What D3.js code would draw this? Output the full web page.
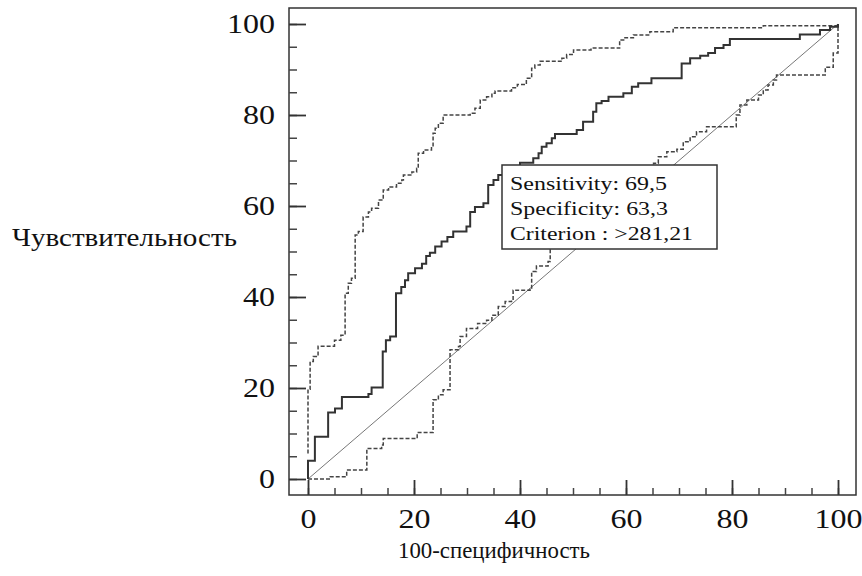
<!DOCTYPE html>
<html>
<head>
<meta charset="utf-8">
<script src="https://cdn.jsdelivr.net/npm/d3@7"></script>
<style>
  body { margin: 0; background: #fff; }
  svg { display: block; }
</style>
</head>
<body>
<div id="chart"></div>
<script>
// ROC curve: [100-specificity, sensitivity] corners (rise at x up to y)
const rocCurve = [
  [0, 0], [0, 4.0], [1.3, 9.3], [3.8, 14.6], [5.1, 15.5], [6.4, 18.0], [11.4, 18.7],
  [12.0, 20.1], [14.1, 28.0], [14.7, 30.5], [15.5, 31.3], [16.6, 40.8], [17.6, 42.2],
  [18.3, 43.7], [18.9, 45.2], [20.2, 46.3], [21.5, 47.3], [22.3, 49.0], [23.0, 49.7],
  [24.0, 51.1], [25.2, 52.2], [26.3, 53.2], [27.4, 54.4], [29.9, 55.5], [30.6, 58.7],
  [31.5, 59.8], [33.1, 60.6], [34.0, 64.6], [35.0, 65.7], [35.9, 66.8], [37.5, 68.5],
  [40.0, 69.5], [42.5, 70.5], [43.5, 71.6], [44.1, 73.0], [45.0, 73.8], [46.0, 74.9],
  [46.6, 75.8], [50.7, 76.7], [51.9, 78.5], [53.8, 80.7], [54.4, 82.6], [55.4, 83.1],
  [56.7, 84.0], [59.5, 84.8], [61.1, 86.2], [62.3, 87.0], [64.8, 88.1], [70.5, 91.3],
  [72.1, 92.5], [74.0, 93.0], [75.5, 93.6], [76.8, 94.7], [78.4, 95.4], [79.6, 96.7],
  [92.8, 97.7], [96.6, 98.7], [98.5, 99.4], [100, 100]
]

// upper confidence bound
const upperBand = [
  [0, 5.6], [0, 19.7], [0.4, 25.8], [1.0, 26.9], [1.9, 29.2], [5.0, 30.5], [6.2, 31.6],
  [7.0, 32.4], [7.0, 40.8], [7.6, 43.0], [8.2, 44.1], [8.9, 45.2], [8.9, 53.6],
  [9.5, 54.4], [10.4, 57.6], [11.4, 58.7], [12.0, 59.5], [13.3, 61.3], [14.2, 63.5],
  [15.2, 64.2], [16.7, 65.0], [17.7, 65.7], [18.0, 66.8], [19.6, 67.5], [20.5, 68.3],
  [20.8, 71.6], [21.8, 72.3], [23.3, 73.0], [23.6, 76.0], [24.0, 77.1], [24.6, 78.2],
  [25.5, 80.0], [30.6, 80.4], [31.5, 81.5], [32.5, 83.3], [33.7, 84.0], [34.7, 84.8],
  [35.3, 85.3], [38.4, 86.0], [39.5, 86.7], [41.2, 88.1], [42.2, 90.3], [42.8, 91.0],
  [43.8, 91.8], [47.9, 92.5], [48.8, 93.3], [50.1, 94.3], [53.4, 94.7], [58.8, 96.5],
  [59.8, 97.0], [61.4, 97.6], [64.5, 98.3], [68.9, 99.2], [85.9, 99.6], [100, 100]
]

// lower confidence bound
const lowerBand = [
  [0, 0], [4.2, 0.5], [7.3, 2.0], [11.1, 6.7], [13.9, 7.5], [14.2, 8.9], [20.6, 10.2],
  [23.6, 17.4], [24.6, 18.5], [25.5, 19.6], [26.8, 28.4], [28.4, 29.1], [28.7, 31.3],
  [29.9, 33.1], [32.0, 34.2], [33.7, 34.9], [34.7, 36.0], [35.9, 37.9], [37.2, 39.0],
  [38.4, 39.3], [38.7, 41.5], [41.9, 41.7], [42.2, 45.6], [43.1, 46.8], [45.3, 47.8],
  [45.7, 52.0], [50.0, 56.0], [55.0, 61.0], [60.0, 65.0], [65.2, 69.4], [66.1, 70.8],
  [67.7, 71.9], [69.6, 72.5], [70.8, 74.1], [72.1, 75.2], [73.3, 76.3], [75.2, 77.4],
  [80.8, 80.0], [81.5, 82.2], [82.8, 83.3], [85.0, 84.4], [85.9, 85.5], [86.8, 86.6],
  [87.8, 87.7], [88.4, 88.8], [97.6, 90.5], [99.1, 93.6], [100, 100]
]

const xMajor = [0, 20, 40, 60, 80, 100]
const yMajor = [0, 20, 40, 60, 80, 100]
const minorTicks = d3.range(0, 101, 5)

const legendLines = ["Sensitivity: 69,5", "Specificity: 63,3", "Criterion : >281,21"]
const legendWidths = [157, 158, 183]
const xTitle = "100-специфичность"
const yTitle = "Чувствительность"

const width = 862
const height = 576
const frame = { left: 289, top: 8, right: 856, bottom: 495 }
const font = "'Liberation Serif', 'Times New Roman', serif"
const digitW = 16 // the source font is set wide

const x = d3.scaleLinear().domain([0, 100]).range([308, 838])
const y = d3.scaleLinear().domain([0, 100]).range([479, 24])

const svg = d3.select("#chart").append("svg")
  .attr("width", width)
  .attr("height", height)
  .attr("font-family", font)

// frame
svg.append("rect")
  .attr("x", frame.left)
  .attr("y", frame.top)
  .attr("width", frame.right - frame.left)
  .attr("height", frame.bottom - frame.top)
  .attr("fill", "none")
  .attr("stroke", "#333")
  .attr("stroke-width", 1.5)

// minor ticks
svg.append("g")
  .attr("transform", `translate(0,${frame.bottom})`)
  .call(d3.axisBottom(x).tickValues(minorTicks).tickSize(-7).tickFormat(""))
  .call(g => g.select(".domain").remove())
  .call(g => g.selectAll("line").attr("stroke", "#444").attr("stroke-width", 1.5))

svg.append("g")
  .attr("transform", `translate(${frame.left},0)`)
  .call(d3.axisLeft(y).tickValues(minorTicks).tickSize(-8).tickFormat(""))
  .call(g => g.select(".domain").remove())
  .call(g => g.selectAll("line").attr("stroke", "#444").attr("stroke-width", 1.5))

// major ticks + labels
svg.append("g")
  .attr("transform", `translate(0,${frame.bottom})`)
  .call(d3.axisBottom(x).tickValues(xMajor).tickSize(-15).tickPadding(14).tickFormat(d3.format("d")))
  .call(g => g.select(".domain").remove())
  .call(g => g.selectAll("line").attr("stroke", "#333").attr("stroke-width", 1.8))
  .call(g => g.selectAll("text")
    .attr("font-family", font).attr("font-size", 27).attr("fill", "#111")
    .attr("textLength", d => String(d).length * digitW)
    .attr("lengthAdjust", "spacingAndGlyphs"))

svg.append("g")
  .attr("transform", `translate(${frame.left},0)`)
  .call(d3.axisLeft(y).tickValues(yMajor).tickSize(-17).tickPadding(14).tickFormat(d3.format("d")))
  .call(g => g.select(".domain").remove())
  .call(g => g.selectAll("line").attr("stroke", "#333").attr("stroke-width", 1.8))
  .call(g => g.selectAll("text")
    .attr("font-family", font).attr("font-size", 27).attr("fill", "#111")
    .attr("textLength", d => String(d).length * digitW)
    .attr("lengthAdjust", "spacingAndGlyphs"))

// axis titles
svg.append("text")
  .attr("x", 398)
  .attr("y", 558)
  .attr("font-size", 23)
  .attr("fill", "#111")
  .attr("textLength", 192)
  .attr("lengthAdjust", "spacingAndGlyphs")
  .text(xTitle)

svg.append("text")
  .attr("x", 12)
  .attr("y", 246)
  .attr("font-size", 26)
  .attr("fill", "#111")
  .attr("textLength", 225)
  .attr("lengthAdjust", "spacingAndGlyphs")
  .text(yTitle)

// diagonal reference
svg.append("line")
  .attr("x1", x(0)).attr("y1", y(0))
  .attr("x2", x(100)).attr("y2", y(100))
  .attr("stroke", "#777")
  .attr("stroke-width", 1)

const line = d3.line()
  .x(d => x(d[0]))
  .y(d => y(d[1]))
  .curve(d3.curveStepAfter)

svg.append("path")
  .datum(upperBand)
  .attr("d", line)
  .attr("fill", "none")
  .attr("stroke", "#444")
  .attr("stroke-width", 1.5)
  .attr("stroke-dasharray", "4,2")

svg.append("path")
  .datum(lowerBand)
  .attr("d", line)
  .attr("fill", "none")
  .attr("stroke", "#444")
  .attr("stroke-width", 1.5)
  .attr("stroke-dasharray", "4,2")

svg.append("path")
  .datum(rocCurve)
  .attr("d", line)
  .attr("fill", "none")
  .attr("stroke", "#333")
  .attr("stroke-width", 2)

// legend box
const legend = svg.append("g").attr("transform", "translate(502,165)")

legend.append("rect")
  .attr("width", 215)
  .attr("height", 84)
  .attr("fill", "#fff")
  .attr("stroke", "#333")
  .attr("stroke-width", 1.5)

legend.selectAll("text")
  .data(legendLines)
  .join("text")
  .attr("x", 8)
  .attr("y", (d, i) => 25 + i * 25)
  .attr("font-size", 19)
  .attr("fill", "#111")
  .attr("textLength", (d, i) => legendWidths[i])
  .attr("lengthAdjust", "spacingAndGlyphs")
  .text(d => d)
</script>
</body>
</html>
